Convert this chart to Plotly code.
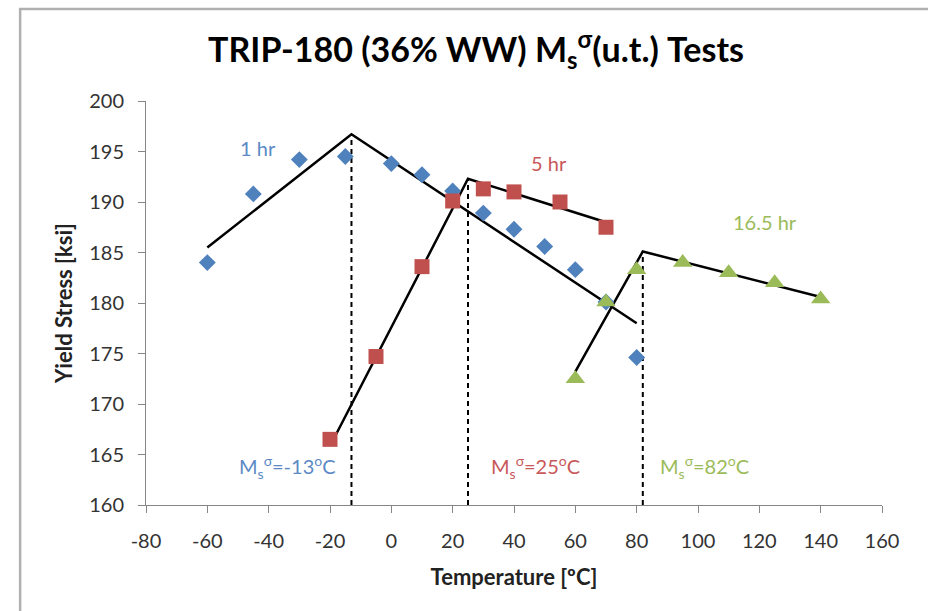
import plotly.graph_objects as go

# ---- data ----
t1_x = [-60, -45, -30, -15, 0, 10, 20, 30, 40, 50, 60, 70, 80]
t1_y = [184.0, 190.8, 194.2, 194.5, 193.8, 192.7, 191.1, 188.9, 187.3, 185.6, 183.3, 180.1, 174.6]

t5_x = [-20, -5, 10, 20, 30, 40, 55, 70]
t5_y = [166.5, 174.7, 183.6, 190.1, 191.3, 191.0, 190.0, 187.5]

t16_x = [60, 70, 80, 95, 110, 125, 140]
t16_y = [172.5, 180.1, 183.3, 184.0, 183.0, 182.0, 180.4]

fit1_x = [-60, -13, 80]
fit1_y = [185.5, 196.7, 178.0]
fit5_x = [-18, 25, 70]
fit5_y = [167.0, 192.3, 188.0]
fit16_x = [60, 82, 140]
fit16_y = [173.2, 185.1, 180.6]

ms_x = [-13, 25, 82]
ms_top = [196.7, 192.3, 185.1]

series_names = ["1 hr", "5 hr", "16.5 hr"]
label_x = [-43.5, 51.5, 122]
label_y = [195.3, 193.9, 188.0]
ms_labels = ["M<sub>s</sub><sup>σ</sup>=-13<sup>o</sup>C",
             "M<sub>s</sub><sup>σ</sup>=25<sup>o</sup>C",
             "M<sub>s</sub><sup>σ</sup>=82<sup>o</sup>C"]
ms_label_x = [-34, 47, 102]
ms_label_y = 163.8

x_ticks = list(range(-80, 161, 20))
x_tick_text = [str(v) for v in x_ticks]
y_ticks = list(range(160, 201, 5))
y_tick_text = [str(v) for v in y_ticks]

colors = ["#4F81BD", "#C0504D", "#9BBB59"]
text_colors = ["#5B8AC6", "#C8585A", "#9BBB59"]

FONT = "Lato"

fig = go.Figure()

# fit lines
for fx, fy in [(fit1_x, fit1_y), (fit5_x, fit5_y), (fit16_x, fit16_y)]:
    fig.add_trace(go.Scatter(x=fx, y=fy, mode="lines",
                             line=dict(color="black", width=2.5),
                             showlegend=False, hoverinfo="skip"))

# dashed vertical lines
for mx, mt in zip(ms_x, ms_top):
    fig.add_trace(go.Scatter(x=[mx, mx], y=[160, mt], mode="lines",
                             line=dict(color="black", width=2, dash="5px,4px"),
                             showlegend=False, hoverinfo="skip"))

# markers
fig.add_trace(go.Scatter(x=t1_x, y=t1_y, mode="markers", name="1 hr",
                         marker=dict(symbol="diamond", size=13, color=colors[0]),
                         showlegend=False))
fig.add_trace(go.Scatter(x=t5_x, y=t5_y, mode="markers", name="5 hr",
                         marker=dict(symbol="square", size=15, color=colors[1]),
                         showlegend=False))
fig.add_trace(go.Scatter(x=t16_x, y=t16_y, mode="markers", name="16.5 hr",
                         marker=dict(symbol="triangle-up", size=17, color=colors[2]),
                         showlegend=False))

annotations = []
for name, lx, ly, c in zip(series_names, label_x, label_y, text_colors):
    annotations.append(dict(x=lx, y=ly, text=name, showarrow=False,
                            font=dict(family=FONT, size=20, color=c)))
for txt, lx, c in zip(ms_labels, ms_label_x, text_colors):
    annotations.append(dict(x=lx, y=ms_label_y, text=txt, showarrow=False,
                            font=dict(family=FONT, size=20, color=c)))

fig.update_layout(
    width=928, height=611,
    paper_bgcolor="white", plot_bgcolor="white",
    margin=dict(l=146, r=46, t=101, b=106),
    title=dict(text="<b>TRIP-180 (36% WW) M<sub>s</sub><sup>σ</sup>(u.t.) Tests</b>",
               x=0.513, xanchor="center", y=0.918, yanchor="middle",
               font=dict(family=FONT, size=34, color="black")),
    annotations=annotations,
    shapes=[dict(type="rect", xref="paper", yref="paper",
                 x0=-0.171, x1=1.08, y0=-0.3, y1=1.2277,
                 line=dict(color="#B0B0B0", width=2.5), layer="below")],
)

axis_common = dict(showgrid=False, zeroline=False, showline=True,
                   linecolor="#868686", linewidth=1,
                   ticks="outside", ticklen=7, tickcolor="#868686",
                   tickfont=dict(family=FONT, size=20, color="#333333"))

fig.update_xaxes(range=[-80, 160], tickvals=x_ticks, ticktext=x_tick_text,
                 **axis_common, ticklabelstandoff=11,
                 title=dict(text="<b>Temperature [ºC]</b>", standoff=18,
                            font=dict(family=FONT, size=22, color="#222222")))
fig.update_yaxes(range=[160, 200], tickvals=y_ticks, ticktext=y_tick_text,
                 **axis_common, ticklabelstandoff=10,
                 title=dict(text="<b>Yield Stress [ksi]</b>", standoff=10,
                            font=dict(family=FONT, size=22, color="#222222")))

fig.write_html("out.html")
